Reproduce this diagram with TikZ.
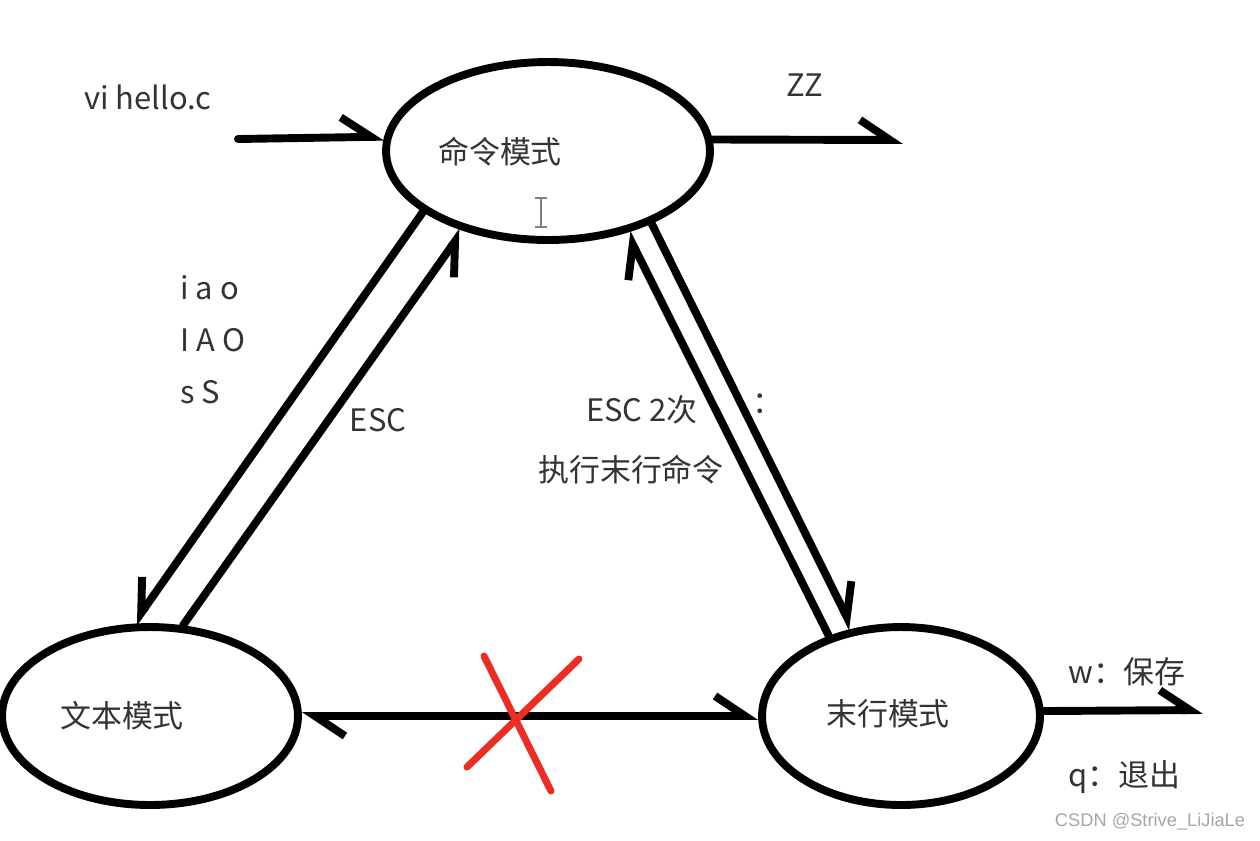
\documentclass[tikz,border=0pt]{standalone}
\usepackage{fontspec}
\usepackage{tikz}
\usetikzlibrary{shapes.geometric, arrows.meta}
\newfontfamily\cjk{Noto Sans CJK SC}
\newfontfamily\wmfont{Liberation Sans}
\definecolor{xred}{RGB}{235,45,35}

\begin{document}
\begin{tikzpicture}[x=0.02cm, y=-0.02cm,
  mode/.style={ellipse, draw, line width=4.5pt, inner sep=0pt, minimum height=3.56cm},
  txt/.style={font=\cjk\fontsize{17.6}{29.6}\selectfont, text=black!80, inner sep=0pt},
  edge/.style={line width=4.5pt, line cap=round},
  barb/.style={edge, -{Straight Barb[harpoon, length=0.6cm, width=0.8cm]}},
  barbr/.style={edge, -{Straight Barb[harpoon, swap, length=0.6cm, width=0.8cm]}},
]
\useasboundingbox (0,0) rectangle (1260,840);

% the three modes
\node[mode, minimum width=6.48cm] (cmd) at (548,151) {};
\node[mode, minimum width=5.92cm] (ins) at (150,716) {};
\node[mode, minimum width=5.56cm] (last) at (901,716) {};

\node[txt] (cmdl) at (500,152) {命令模式};
\node[txt] (insl) at (122,716) {文本模式};
\node[txt] (lastl) at (888,714) {末行模式};

% free ends
\coordinate (vi) at (238,139);
\coordinate (zz) at (903,140);
\coordinate (wq) at (1203,710);

\draw[barb] (vi) -- (cmd.175.7); %start
\draw[barb] (cmd.4) -- (zz); %ZZ

\draw[barbr] (cmd.206.7) -- (ins.100.4); %iao
\draw[barbr] (ins.70.6) -- (cmd.223.5); %ESC

\draw[barb] (last.132.3) -- (cmd.314.3); %ESC 2x
\draw[barb] (cmd.325.5) -- (last.119); %:

\draw[edge, {Straight Barb[harpoon, length=0.6cm, width=0.8cm]}-{Straight Barb[harpoon, length=0.6cm, width=0.8cm]}] (ins.0) -- (last.180);
\draw[barb] (last.2) -- (wq); %w q

% red cross
\draw[xred, line width=4pt, line cap=round] (484,656) -- (551,791);
\draw[xred, line width=4pt, line cap=round] (467,767) -- (579,659);

% cursor
\draw[gray, line width=1pt] (541,198) -- (541,227);
\draw[gray, line width=1pt] (535,198) -- (547,198);
\draw[gray, line width=1pt] (535,227) -- (547,227);

\node[txt] (vitxt) at (148,97) {vi hello.c};
\node[txt] (zztxt) at (805,85) {ZZ};
\node[txt, align=left, anchor=west] (keys) at (180,340) {i a o\\I A O\\s S};
\node[txt] (esc) at (378,420) {ESC};
\node[txt] (esc2) at (642,410) {ESC 2次};
\node[txt] (exec) at (631,470) {执行末行命令};
\node[txt] (colon) at (768,404) {：};
\node[txt] (save) at (1127,672) {w：保存};
\node[txt] (quit) at (1124,777) {q：退出};

\node[font=\wmfont\fontsize{10.4}{12}\selectfont, text=black!35, inner sep=0pt] (wm) at (1150,822) {CSDN @Strive\_LiJiaLe};
\end{tikzpicture}
\end{document}
